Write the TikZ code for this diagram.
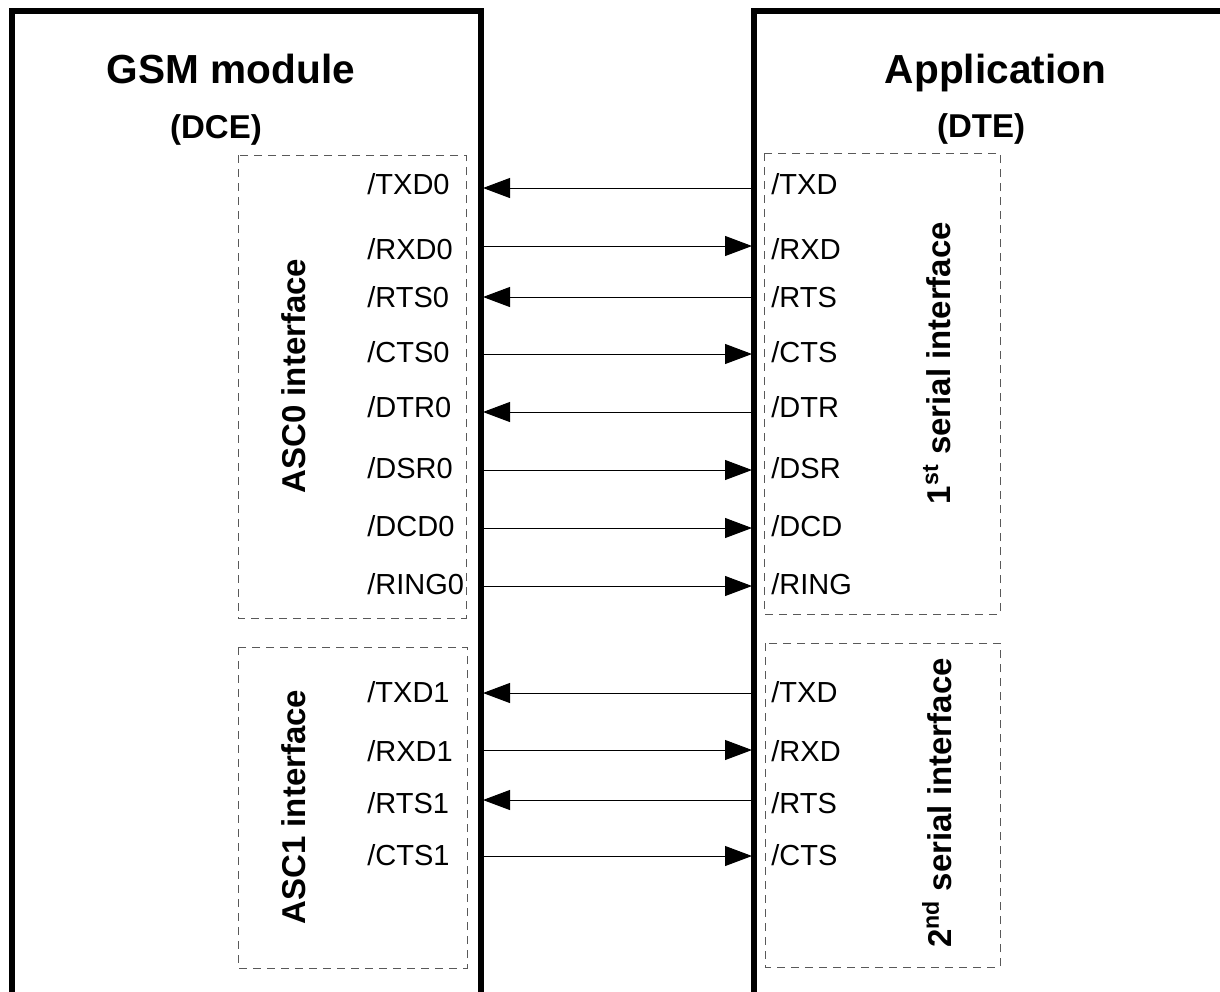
\documentclass[tikz,border=0pt]{standalone}
\usepackage{fontspec}
\setmainfont{Liberation Sans}
\usetikzlibrary{arrows,arrows.meta,positioning}

\begin{document}
\begin{tikzpicture}[-,x=0.5pt,y=-0.5pt]
\tikzstyle{thickbox}=[line width=2.8pt,line join=miter]
\tikzstyle{dashbox}=[draw=black!65,line width=0.5pt,dash pattern=on 4pt off 3pt]
\tikzstyle{signame}=[inner sep=0pt,anchor=base west,font=\fontsize{14.5}{17}\selectfont]
\tikzstyle{headline}=[inner sep=0pt,anchor=base,font=\fontsize{20.3}{24}\selectfont\bfseries]
\tikzstyle{subhead}=[inner sep=0pt,anchor=base,font=\fontsize{16.5}{20}\selectfont\bfseries]
\tikzstyle{sidetext}=[inner sep=0pt,rotate=90,font=\fontsize{16.5}{20}\selectfont\bfseries]
\tikzstyle{wire}=[line width=0.5pt,-{Triangle[length=13.5pt,width=10pt]}]

\path[use as bounding box] (0,0) rectangle (1220,991);
\clip (0,0) rectangle (1220,991);

\draw[thickbox] (12,1010) -- (12,11) -- (481,11) -- (481,1010);
\draw[thickbox] (754,1010) -- (754,11) -- (1240,11);

\node[headline] (gsm) at (231,83) {GSM module};
\node[subhead] (dce) at (216,138) {(DCE)};
\node[headline] (app) at (995.5,83) {Application};
\node[subhead] (dte) at (981,137) {(DTE)};

\draw[dashbox] (238,155) rectangle (466,618);
\draw[dashbox] (238,647) rectangle (467,968);
\draw[dashbox] (764,153) rectangle (1000,614);
\draw[dashbox] (765,643) rectangle (1000,967);

\node[sidetext] (asc0) at (294,376) {ASC0 interface};
\node[sidetext] (asc1) at (294,807) {ASC1 interface};
\node[sidetext] (ser1) at (937,363) {1\textsuperscript{st} serial interface};
\node[sidetext] (ser2) at (937,803) {2\textsuperscript{nd} serial interface};

\node[signame] (l-txd0) at (367,194) {/TXD0};
\node[signame] (l-rxd0) at (367,259) {/RXD0};
\node[signame] (l-rts0) at (367,307) {/RTS0};
\node[signame] (l-cts0) at (367,362) {/CTS0};
\node[signame] (l-dtr0) at (367,417) {/DTR0};
\node[signame] (l-dsr0) at (367,478) {/DSR0};
\node[signame] (l-dcd0) at (367,536) {/DCD0};
\node[signame] (l-ring0) at (367,594) {/RING0};
\node[signame] (l-txd1) at (367,702) {/TXD1};
\node[signame] (l-rxd1) at (367,761) {/RXD1};
\node[signame] (l-rts1) at (367,813) {/RTS1};
\node[signame] (l-cts1) at (367,865) {/CTS1};

\node[signame] (r-txd0) at (771,194) {/TXD};
\node[signame] (r-rxd0) at (771,259) {/RXD};
\node[signame] (r-rts0) at (771,307) {/RTS};
\node[signame] (r-cts0) at (771,362) {/CTS};
\node[signame] (r-dtr0) at (771,417) {/DTR};
\node[signame] (r-dsr0) at (771,478) {/DSR};
\node[signame] (r-dcd0) at (771,536) {/DCD};
\node[signame] (r-ring0) at (771,594) {/RING};
\node[signame] (r-txd1) at (771,702) {/TXD};
\node[signame] (r-rxd1) at (771,761) {/RXD};
\node[signame] (r-rts1) at (771,813) {/RTS};
\node[signame] (r-cts1) at (771,865) {/CTS};

\coordinate (gsm-txd0) at (483,188);
\coordinate (gsm-rxd0) at (483,246);
\coordinate (gsm-rts0) at (483,297);
\coordinate (gsm-cts0) at (483,354);
\coordinate (gsm-dtr0) at (483,412);
\coordinate (gsm-dsr0) at (483,470);
\coordinate (gsm-dcd0) at (483,528);
\coordinate (gsm-ring0) at (483,586);
\coordinate (gsm-txd1) at (483,693);
\coordinate (gsm-rxd1) at (483,750);
\coordinate (gsm-rts1) at (483,800);
\coordinate (gsm-cts1) at (483,856);

\coordinate (app-txd0) at (752,188);
\coordinate (app-rxd0) at (752,246);
\coordinate (app-rts0) at (752,297);
\coordinate (app-cts0) at (752,354);
\coordinate (app-dtr0) at (752,412);
\coordinate (app-dsr0) at (752,470);
\coordinate (app-dcd0) at (752,528);
\coordinate (app-ring0) at (752,586);
\coordinate (app-txd1) at (752,693);
\coordinate (app-rxd1) at (752,750);
\coordinate (app-rts1) at (752,800);
\coordinate (app-cts1) at (752,856);

\draw[wire] (app-txd0) -- (gsm-txd0);
\draw[wire] (gsm-rxd0) -- (app-rxd0);
\draw[wire] (app-rts0) -- (gsm-rts0);
\draw[wire] (gsm-cts0) -- (app-cts0);
\draw[wire] (app-dtr0) -- (gsm-dtr0);
\draw[wire] (gsm-dsr0) -- (app-dsr0);
\draw[wire] (gsm-dcd0) -- (app-dcd0);
\draw[wire] (gsm-ring0) -- (app-ring0);
\draw[wire] (app-txd1) -- (gsm-txd1);
\draw[wire] (gsm-rxd1) -- (app-rxd1);
\draw[wire] (app-rts1) -- (gsm-rts1);
\draw[wire] (gsm-cts1) -- (app-cts1);
\end{tikzpicture}
\end{document}
